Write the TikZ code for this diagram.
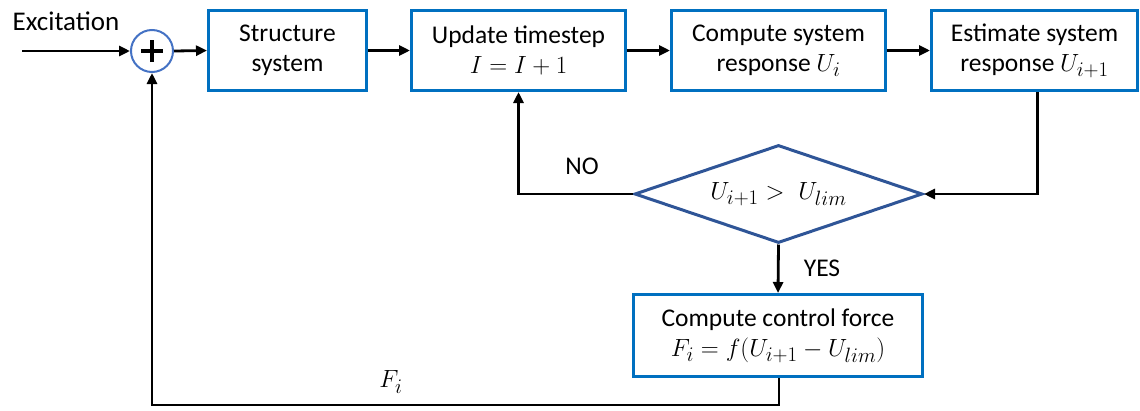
\documentclass[tikz,border=0pt]{standalone}
\usepackage{fontspec}
\setmainfont{Carlito}
\usetikzlibrary{arrows.meta,shapes.geometric,calc}
\definecolor{boxblue}{HTML}{0070C0}
\definecolor{sumblue}{HTML}{4472C4}
\definecolor{decblue}{HTML}{2F5597}
% larger math inside the Carlito text
\newcommand{\mth}[1]{{\fontsize{29.5}{30}\selectfont$#1$}}
\begin{document}
\begin{tikzpicture}[x=1pt,y=-1pt,
  box/.style={draw=boxblue, line width=3pt, minimum height=80pt, inner sep=0pt,
    align=center, font=\fontsize{25.5}{30}\selectfont},
  decision/.style={shape=diamond, draw=decblue, line width=3pt, inner sep=0pt,
    aspect=2.9, minimum width=288pt, minimum height=98pt},
  summer/.style={circle, draw=sumblue, line width=2pt, minimum size=42pt, inner sep=0pt,
    path picture={
      \draw[black, line width=3.8pt] ([xshift=-11pt]path picture bounding box.center) -- ++(22pt,0pt);
      \draw[black, line width=3.8pt] ([yshift=-11pt]path picture bounding box.center) -- ++(0pt,22pt);
    }},
  lbl/.style={font=\fontsize{25.5}{30}\selectfont, inner sep=0pt},
  conn/.style={line width=2.8pt, -{Triangle[length=11pt,width=10pt]}}]

\useasboundingbox (0,0) rectangle (1140,410);

% input and summing junction
\node[lbl, font=\fontsize{27}{30}\selectfont] (exc) at (66,21) {Excitation};
\coordinate (in) at (22,51);
\node[summer] (sum) at (152,51) {};

% forward chain
\node[box, minimum width=158pt] (b1) at (287.5,50.5) {Structure\\system};
\node[box, minimum width=214pt] (b2) at (518.5,50.5) {Update timestep\\\mth{I=I+1}};
\node[box, minimum width=214pt] (b3) at (778.5,50.5) {Compute system\\response \mth{U_i}};
\node[box, minimum width=206pt] (b4) at (1034.5,50.5) {Estimate system\\response \mth{U_{i+1}}};

% threshold check and control force
\node[decision] (dia) at (778.5,194) {\mth{U_{i+1} >\; U_{lim}}};
\node[box, minimum width=289pt, minimum height=82pt] (b5) at (778,335.5)
  {Compute control force\\\mth{F_i = f(U_{i+1}-U_{lim})}};

% labels on the loops
\node[lbl] (no) at (582,166) {NO};
\node[lbl] (yes) at (822,268) {YES};
\node[lbl] (fi) at (391,382) {\mth{F_i}};

% connectors
\draw[conn] (in) -- (sum.west);
\draw[conn] (sum.east) -- (b1.west);
\draw[conn] (b1.east) -- (b2.west);
\draw[conn] (b2.east) -- (b3.west);
\draw[conn] (b3.east) -- (b4.west);
\draw[conn] ([xshift=3pt]b4.south) |- (dia.east);
\draw[conn] (dia.west) -| (b2.south);
\draw[conn] (dia.south) -- (b5.north);
\coordinate (low) at (0,405);
\draw[conn] ([xshift=1pt]b5.south) |- (low -| sum.south) -- (sum.south);
\end{tikzpicture}
\end{document}
